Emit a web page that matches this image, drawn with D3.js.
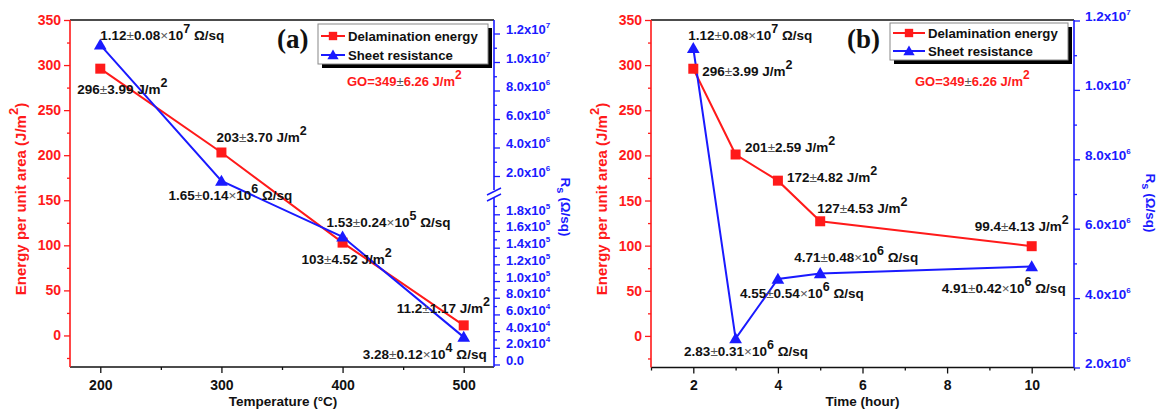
<!DOCTYPE html>
<html>
<head>
<meta charset="utf-8">
<script src="https://cdn.jsdelivr.net/npm/d3@7"></script>
<style>
  html, body { margin: 0; padding: 0; background: #fff; }
  svg { display: block; font-family: "Liberation Sans", Arial, sans-serif; }
</style>
</head>
<body>
<svg id="chart" width="1157" height="412"></svg>
<script>
// ---- data: (a) annealing temperature ----
const temperature = [200, 300, 400, 500];
const tempEnergy = [296, 203, 103, 11.2];
const tempRs = [1.12e7, 1.65e6, 1.53e5, 3.28e4];
const tempEnergyText = ['296', '3.99', '203', '3.70', '103', '4.52', '11.2', '1.17'];
const tempRsText = ['1.12', '0.08', '1.65', '0.14', '1.53', '0.24', '3.28', '0.12'];
const tempRsExp = [7, 6, 5, 4];

// ---- data: (b) annealing time ----
const hours = [2, 3, 4, 5, 10];
const timeEnergy = [296, 201, 172, 127, 99.4];
const timeRs = [1.12e7, 2.83e6, 4.55e6, 4.71e6, 4.91e6];
const timeEnergyText = ['296', '3.99', '201', '2.59', '172', '4.82', '127', '4.53', '99.4', '4.13'];
const timeRsText = ['1.12', '0.08', '2.83', '0.31', '4.55', '0.54', '4.71', '0.48', '4.91', '0.42'];
const timeRsExp = [7, 6, 6, 6, 6];

// ---- ticks ----
const energyTicks = [0, 50, 100, 150, 200, 250, 300, 350];
const energyMinor = [-25, 25, 75, 125, 175, 225, 275, 325];
const tempTicks = [200, 300, 400, 500];
const tempMinor = [250, 350, 450];
const hourTicks = [2, 4, 6, 8, 10];
const hourMinor = [1, 3, 5, 7, 9, 11];
const rsTicksHigh = [2e6, 4e6, 6e6, 8e6, 1e7, 1.2e7];
const rsMinorHigh = [3e6, 5e6, 7e6, 9e6, 1.1e7];
const rsTicksLow = [0, 2e4, 4e4, 6e4, 8e4, 1e5, 1.2e5, 1.4e5, 1.6e5, 1.8e5];
const rsMinorLow = [1e4, 3e4, 5e4, 7e4, 9e4, 1.1e5, 1.3e5, 1.5e5, 1.7e5, 1.9e5];
const rsTicksTime = [2e6, 4e6, 6e6, 8e6, 1e7, 1.2e7];
const rsMinorTime = [3e6, 5e6, 7e6, 9e6, 1.1e7];

const GO_TEXT = ['GO=349', '6.26 J/m'];

const RED = '#ff1a1a', BLUE = '#1a1aff', INK = '#111';
const svg = d3.select('#chart');

// append tspans; parts: {t, rise, size, light}
function rich(sel, parts) {
    let cur = 0;
    parts.forEach(p => {
        const off = -(p.rise || 0);
        const ts = sel.append('tspan').attr('dy', off - cur).text(p.t);
        cur = off;
        if (p.size) ts.attr('font-size', p.size);
        if (p.light) ts.attr('font-weight', 'normal').attr('fill', '#555');
    });
    return sel;
}

function sciParts(v) {
    if (v === 0) return [{ t: '0.0' }];
    const e = Math.floor(Math.log10(v) + 1e-9);
    const m = v / Math.pow(10, e);
    return [{ t: m.toFixed(1) + 'x10' }, { t: String(e), rise: 6, size: 8 }];
}

function styleAxis(sel, color, size) {
    sel.attr('font-family', null).attr('font-size', size).attr('font-weight', 'bold');
    sel.select('.domain').remove();
    sel.selectAll('.tick line').attr('stroke', color).attr('stroke-width', 1.3);
    sel.selectAll('.tick text').attr('fill', color);
}

function drawPanel(p) {
    const g = svg.append('g');
    const { left, right, top, bottom } = p.box;

    // top frame line
    g.append('line').attr('x1', left).attr('x2', right).attr('y1', top).attr('y2', top)
        .attr('stroke', INK).attr('stroke-width', 1.3);

    // bottom axis
    const xa = g.append('g').attr('transform', `translate(0,${bottom})`)
        .call(d3.axisBottom(p.x).tickValues(p.xTicks).tickSize(6).tickPadding(7).tickSizeOuter(0));
    styleAxis(xa, INK, 14);
    const xm = g.append('g').attr('transform', `translate(0,${bottom})`)
        .call(d3.axisBottom(p.x).tickValues(p.xMinor).tickSize(3).tickFormat('').tickSizeOuter(0));
    styleAxis(xm, INK, 14);
    g.append('line').attr('x1', left).attr('x2', right).attr('y1', bottom).attr('y2', bottom)
        .attr('stroke', INK).attr('stroke-width', 1.6);

    // left energy axis
    const ya = g.append('g').attr('transform', `translate(${left},0)`)
        .call(d3.axisLeft(p.yE).tickValues(energyTicks).tickSize(6).tickPadding(3).tickSizeOuter(0));
    styleAxis(ya, RED, 14);
    const ym = g.append('g').attr('transform', `translate(${left},0)`)
        .call(d3.axisLeft(p.yE).tickValues(energyMinor).tickSize(3).tickFormat('').tickSizeOuter(0));
    styleAxis(ym, RED, 14);
    g.append('line').attr('x1', left).attr('x2', left).attr('y1', top).attr('y2', bottom)
        .attr('stroke', RED).attr('stroke-width', 1.6);

    // right Rs axis (one or more segments)
    p.rsSegments.forEach(seg => {
        const ra = g.append('g').attr('transform', `translate(${right},0)`)
            .call(d3.axisRight(seg.scale).tickValues(seg.ticks).tickSize(6).tickPadding(p.rPad).tickSizeOuter(0));
        styleAxis(ra, BLUE, p.rFont);
        ra.selectAll('.tick text').each(function (d) {
            const t = d3.select(this);
            t.text(null);
            rich(t, sciParts(d));
        });
        const rm = g.append('g').attr('transform', `translate(${right},0)`)
            .call(d3.axisRight(seg.scale).tickValues(seg.minor).tickSize(3).tickFormat('').tickSizeOuter(0));
        styleAxis(rm, BLUE, p.rFont);
        g.append('line').attr('x1', right).attr('x2', right).attr('y1', seg.from).attr('y2', seg.to)
            .attr('stroke', BLUE).attr('stroke-width', 1.6);
    });
    if (p.breakAt) {
        [0, 6].forEach(o => {
            g.append('line')
                .attr('x1', right - 7).attr('y1', p.breakAt + 4 + o)
                .attr('x2', right + 7).attr('y2', p.breakAt - 3 + o)
                .attr('stroke', BLUE).attr('stroke-width', 1.4);
        });
    }

    // series
    const ePts = p.xs.map((v, i) => [p.x(v), p.yE(p.energy[i])]);
    const rPts = p.xs.map((v, i) => [p.x(v), p.yR(p.rs[i])]);
    const line = d3.line();
    g.append('path').attr('d', line(ePts)).attr('fill', 'none').attr('stroke', RED).attr('stroke-width', 2);
    g.append('path').attr('d', line(rPts)).attr('fill', 'none').attr('stroke', BLUE).attr('stroke-width', 2);
    const sq = d3.symbol(d3.symbolSquare, 100)();
    const tri = d3.symbol(d3.symbolTriangle, 70)();
    g.selectAll('.sq').data(ePts).enter().append('path')
        .attr('d', sq).attr('transform', d => `translate(${d[0]},${d[1]})`).attr('fill', RED);
    g.selectAll('.tri').data(rPts).enter().append('path')
        .attr('d', tri).attr('transform', d => `translate(${d[0]},${d[1] + 1})`).attr('fill', BLUE);

    // point labels
    const labG = g.append('g').attr('font-size', 13.5).attr('font-weight', 'bold').attr('fill', INK);
    ePts.forEach((pt, i) => {
        const o = p.eOff[i];
        rich(labG.append('text').attr('x', pt[0] + o[0]).attr('y', pt[1] + o[1]), [
            { t: p.energyText[2 * i] }, { t: '±', light: true },
            { t: p.energyText[2 * i + 1] + ' J/m' }, { t: '2', rise: 7, size: 12.5 }
        ]);
    });
    rPts.forEach((pt, i) => {
        const o = p.rOff[i];
        rich(labG.append('text').attr('x', pt[0] + o[0]).attr('y', pt[1] + o[1]), [
            { t: p.rsText[2 * i] }, { t: '±', light: true },
            { t: p.rsText[2 * i + 1] }, { t: '×', light: true }, { t: '10' },
            { t: String(p.rsExp[i]), rise: 7, size: 12.5 }, { t: ' Ω/sq' }
        ]);
    });

    // axis titles
    g.append('text').attr('x', (left + right) / 2 + p.xTitleShift).attr('y', 406)
        .attr('text-anchor', 'middle').attr('font-size', 13.5).attr('font-weight', 'bold').attr('fill', INK)
        .text(p.xTitle);
    rich(g.append('text').attr('transform', `translate(${p.eTitleX},199) rotate(-90)`)
        .attr('text-anchor', 'middle').attr('font-size', 15).attr('font-weight', 'bold').attr('fill', RED),
        [{ t: 'Energy per unit area (J/m' }, { t: '2', rise: 8, size: 13 }, { t: ')' }]);
    rich(g.append('text').attr('transform', `translate(${p.rTitleX},${p.rTitleY}) rotate(90)`)
        .attr('text-anchor', 'middle').attr('font-size', 13.5).attr('font-weight', 'bold').attr('fill', BLUE),
        [{ t: 'R' }, { t: 's', rise: -4, size: 11 }, { t: ' (Ω/sq)' }]);

    // panel letter
    g.append('text').attr('x', p.letter[0]).attr('y', p.letter[1])
        .attr('font-family', '"Liberation Serif", "Times New Roman", serif')
        .attr('font-size', 27).attr('font-weight', 'bold').attr('fill', INK).text(p.letterText);

    // legend
    const L = p.legend;
    g.append('rect').attr('x', L.x + 4).attr('y', L.y + 4).attr('width', L.w).attr('height', L.h).attr('fill', '#000');
    g.append('rect').attr('x', L.x).attr('y', L.y).attr('width', L.w).attr('height', L.h)
        .attr('fill', '#fff').attr('stroke', '#888').attr('stroke-width', 1);
    [['Delamination energy', RED, sq], ['Sheet resistance', BLUE, tri]].forEach((it, i) => {
        const cy = L.y + L.rows[i];
        g.append('line').attr('x1', L.x + 3).attr('x2', L.x + 3 + L.lineW).attr('y1', cy).attr('y2', cy)
            .attr('stroke', it[1]).attr('stroke-width', 2);
        g.append('path').attr('d', i === 0 ? d3.symbol(d3.symbolSquare, 70)() : d3.symbol(d3.symbolTriangle, 55)())
            .attr('transform', `translate(${L.x + 3 + L.lineW / 2},${cy + (i ? 1 : 0)})`).attr('fill', it[1]);
        g.append('text').attr('x', L.x + L.textX).attr('y', cy + 5)
            .attr('font-size', 13.2).attr('font-weight', 'bold').attr('fill', INK).text(it[0]);
    });

    // GO reference note
    rich(g.append('text').attr('x', p.go[0]).attr('y', p.go[1])
        .attr('font-size', 13).attr('font-weight', 'bold').attr('fill', RED),
        [{ t: GO_TEXT[0] }, { t: '±', light: true }, { t: GO_TEXT[1] }, { t: '2', rise: 7, size: 12 }]);
}

// ---- panel (a) ----
const xA = d3.scaleLinear().domain([175, 525]).range([70, 494]);
const yEA = d3.scaleLinear().domain([-35, 350]).range([367, 20]);
const yRLow = d3.scaleLinear().domain([0, 1.8e5]).range([364.5, 214.3]);
const yRHigh = d3.scaleLinear().domain([2e6, 1.2e7]).range([176, 33.5]);
drawPanel({
    box: { left: 70, right: 494, top: 20, bottom: 367 },
    x: xA, yE: yEA, yR: v => (v >= 5e5 ? yRHigh(v) : yRLow(v)),
    xs: temperature, energy: tempEnergy, rs: tempRs,
    energyText: tempEnergyText, rsText: tempRsText, rsExp: tempRsExp,
    xTicks: tempTicks, xMinor: tempMinor,
    rsSegments: [
        { scale: yRLow, ticks: rsTicksLow, minor: rsMinorLow, from: 367, to: 198 },
        { scale: yRHigh, ticks: rsTicksHigh, minor: rsMinorHigh, from: 190, to: 20 }
    ],
    breakAt: 191, rPad: 6, rFont: 13,
    eOff: [[-23, 25], [-5, -10], [-41, 21], [-67, -12]],
    rOff: [[0, -5], [-53, 19], [-16, -10], [-101, 22]],
    xTitle: 'Temperature (°C)', xTitleShift: 1,
    eTitleX: 26, rTitleX: 561, rTitleY: 207,
    letter: [277, 48], letterText: '(a)',
    legend: { x: 318, y: 24, w: 170, h: 40, rows: [12, 31], lineW: 24, textX: 30 },
    go: [347, 86]
});

// ---- panel (b) ----
const xB = d3.scaleLinear().domain([1, 11]).range([651, 1074]);
const yEB = d3.scaleLinear().domain([-35, 350]).range([367.5, 20]);
const yRB = d3.scaleLinear().domain([2e6, 1.2e7]).range([367.5, 20.5]);
drawPanel({
    box: { left: 651, right: 1074, top: 20, bottom: 367.5 },
    x: xB, yE: yEB, yR: yRB,
    xs: hours, energy: timeEnergy, rs: timeRs,
    energyText: timeEnergyText, rsText: timeRsText, rsExp: timeRsExp,
    xTicks: hourTicks, xMinor: hourMinor,
    rsSegments: [{ scale: yRB, ticks: rsTicksTime, minor: rsMinorTime, from: 367.5, to: 20 }],
    breakAt: null, rPad: 5, rFont: 13.5,
    eOff: [[9, 7], [9.5, -2], [9, 1], [-3, -8], [-57, -15]],
    rOff: [[-5, -8], [-51.5, 17], [-38, 19], [-26, -11], [-90, 26]],
    xTitle: 'Time (hour)', xTitleShift: 0,
    eTitleX: 607, rTitleX: 1146, rTitleY: 203,
    letter: [847, 48], letterText: '(b)',
    legend: { x: 890, y: 23, w: 178, h: 37, rows: [10, 28], lineW: 32, textX: 38 },
    go: [915, 86]
});
</script>
</body>
</html>
